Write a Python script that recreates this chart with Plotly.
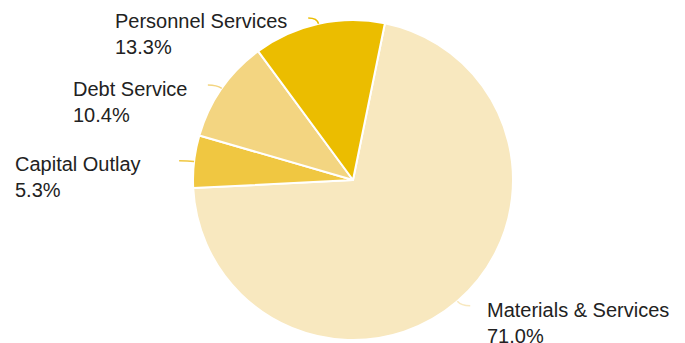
import math
import plotly.graph_objects as go

# Budget shares by category (percent)
categories = ["Materials & Services", "Capital Outlay", "Debt Service", "Personnel Services"]
shares = [71.0, 5.3, 10.4, 13.3]
colors = ["#F8E8BF", "#F0C741", "#F3D581", "#EBBD00"]

W, H = 685, 343
CX, CY, R = 353, 180, 160          # pie centre / radius in pixels
START_DEG = 11.5                   # first slice edge, clockwise from 12 o'clock

# label placement (left edge x, top y in pixels) and connector direction
label_pos = {
    "Materials & Services": (485, 297, 1),
    "Capital Outlay": (13, 151, -1),
    "Debt Service": (71, 76, -1),
    "Personnel Services": (113, 8, -1),
}

def px(x):
    return x / W

def py(y):
    return 1 - y / H

fig = go.Figure(
    go.Pie(
        labels=categories,
        values=shares,
        sort=False,
        direction="clockwise",
        rotation=START_DEG,
        marker=dict(colors=colors, line=dict(color="white", width=2)),
        textinfo="none",
        hoverinfo="label+percent",
        domain=dict(x=[px(CX - R), px(CX + R)], y=[py(CY + R), py(CY - R)]),
        showlegend=False,
    )
)

shapes = []
annotations = []
total = sum(shares)
acc = START_DEG
for cat, val, col in zip(categories, shares, colors):
    span = val / total * 360
    mid = math.radians(acc + span / 2)
    acc += span
    sx, sy = math.sin(mid), -math.cos(mid)
    ex, ey = CX + R * sx, CY + R * sy
    lx, ly, side = label_pos[cat]
    cx_, cy_ = ex + sx * 6, ey + sy * 6
    fx, fy = cx_ + side * 9, cy_
    path = "M {:.5f},{:.5f} Q {:.5f},{:.5f} {:.5f},{:.5f}".format(
        px(ex), py(ey), px(cx_), py(cy_), px(fx), py(fy)
    )
    shapes.append(dict(type="path", xref="paper", yref="paper", path=path,
                       line=dict(color=col, width=1.5)))
    annotations.append(dict(
        x=px(lx), y=py(ly), xref="paper", yref="paper",
        xanchor="left", yanchor="top", align="left", showarrow=False,
        text="{}<br>{:.1f}%".format(cat, val / total * 100),
        font=dict(family="Liberation Sans, Arial, sans-serif", size=20, color="#222222"),
    ))

fig.update_layout(
    width=W, height=H,
    margin=dict(l=0, r=0, t=0, b=0),
    paper_bgcolor="white", plot_bgcolor="white",
    shapes=shapes, annotations=annotations,
)

fig.write_html("out.html")
